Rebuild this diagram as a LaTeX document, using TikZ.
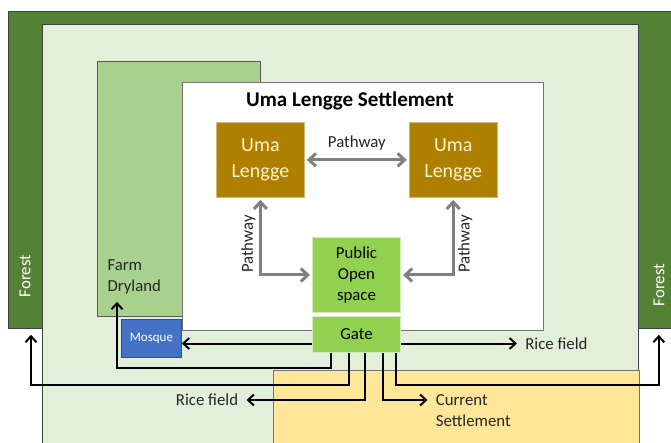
\documentclass[tikz,border=0pt]{standalone}
\usepackage{fontspec}
\setmainfont{Carlito}
\usetikzlibrary{arrows.meta, positioning, calc}

\definecolor{forestgreen}{HTML}{548235}
\definecolor{ricegreen}{HTML}{E2EFDA}
\definecolor{farmgreen}{HTML}{A9D18E}
\definecolor{currentyellow}{HTML}{FFE699}
\definecolor{hutgold}{HTML}{AF7F00}
\definecolor{hutcream}{HTML}{FFF2CC}
\definecolor{opengreen}{HTML}{92D050}
\definecolor{mosqueblue}{HTML}{4472C4}
\definecolor{pathgray}{HTML}{808080}

\begin{document}
\begin{tikzpicture}[x=1pt, y=-1pt,
        zone_box/.style={
            draw=black!75, rectangle, anchor=north west, inner sep=0pt, line width=0.8pt
        },
        hut_box/.style={
            rectangle, fill=hutgold, draw=hutgold!55!white, text=hutcream, line width=0.8pt,
            minimum width=88pt, minimum height=75pt, align=center, font=\fontsize{20}{26}\selectfont
        },
        open_box/.style={
            rectangle, fill=opengreen, draw=opengreen!40!white, line width=1pt,
            minimum width=88pt, align=center, font=\fontsize{16.8}{21}\selectfont
        },
        label_text/.style={text=black!85, font=\fontsize{16.8}{21}\selectfont},
        path_arrow/.style={
            draw=pathgray, line width=3pt, shorten >=2pt, shorten <=2pt,
            {Straight Barb[length=7pt, width=13pt]}-{Straight Barb[length=7pt, width=13pt]}
        },
        link_arrow/.style={
            draw=black, line width=2pt, -{Straight Barb[length=6pt, width=11pt]}
        }
    ]
    \useasboundingbox (0,0) rectangle (671,443);
    \clip (0,0) rectangle (671,443);

    % Land zones (outside to inside)
    \node[zone_box, fill=forestgreen, minimum width=682pt, minimum height=317pt] (forest) at (8,11) {};
    \node[zone_box, fill=ricegreen, minimum width=596pt, minimum height=430pt] (ricefield) at (42,24) {};
    \node[zone_box, fill=currentyellow, draw=black!55, minimum width=366pt, minimum height=80pt] (current) at (273,370) {};
    \node[zone_box, fill=farmgreen, draw=black!65, minimum width=163pt, minimum height=255pt] (farm) at (97,61) {};
    \node[zone_box, fill=white, draw=black!55, line width=1.2pt, minimum width=361pt, minimum height=248pt] (settlement) at (182,82) {};

    % Zone labels
    \node[label_text, text=white, rotate=90] (forestL) at (25,276) {Forest};
    \node[label_text, text=white, rotate=90] (forestR) at (659,285) {Forest};
    \node[label_text, anchor=west, align=left] (farmtext) at (104,277) {Farm\\Dryland};
    \node[font=\bfseries\fontsize{21}{25}\selectfont] (title) at (350,101) {Uma Lengge Settlement};

    % Houses, open space, gate and mosque
    \node[hut_box, anchor=north west] (umaL) at (216,122) {Uma\\Lengge};
    \node[hut_box, right=104pt of umaL] (umaR) {Uma\\Lengge};
    \node[open_box, minimum height=75pt, anchor=north west] (open) at (312,237) {Public\\Open\\space};
    \node[open_box, minimum height=36pt, below=3pt of open] (gate) {Gate};
    \node[rectangle, fill=mosqueblue, draw=mosqueblue!70!black, line width=0.8pt, text=white,
        minimum width=60pt, minimum height=38pt, anchor=north west, font=\fontsize{13}{15}\selectfont] (mosque) at (121,319) {Mosque};

    % Pathways inside the settlement
    \draw[path_arrow] (umaL) -- (umaR) node[midway, above=5pt, label_text] {Pathway};
    \draw[path_arrow] (umaL.south) |- (open.west) node[pos=0.3, rotate=90, anchor=south, label_text] {Pathway};
    \draw[path_arrow] (umaR.south) |- (open.east) node[pos=0.3, rotate=90, anchor=north, label_text] {Pathway};

    % Exits from the gate
    \coordinate (gateL) at ($(gate.west)+(0,9)$);
    \coordinate (gateR) at ($(gate.east)+(0,9)$);
    \draw[link_arrow] (gateL) -- (gateL -| mosque.east);
    \draw[link_arrow] (gateR) -- ++(116,0) node[right=4pt, label_text] {Rice field};
    \draw[link_arrow] ([xshift=-26pt]gate.south) -- ++(0,15) -| ($(farm.south west)+(20,-15)$);
    \draw[link_arrow] ([xshift=-8pt]gate.south) -- ++(0,32) -| ($(forest.south west)+(23,6)$);
    \draw[link_arrow] ([xshift=8pt]gate.south) -- ++(0,47) -- ++(-118,0) node[left=4pt, label_text] {Rice field};
    \draw[link_arrow] ([xshift=26pt]gate.south) -- ++(0,47) -- ++(45,0)
        node[anchor=west, xshift=4pt, yshift=-11pt, align=left, label_text] {Current\\Settlement};
    \draw[link_arrow] ([xshift=39pt]gate.south) -- ++(0,32) -| ($(ricefield.north east |- forest.south)+(20,6)$);

\end{tikzpicture}
\end{document}
